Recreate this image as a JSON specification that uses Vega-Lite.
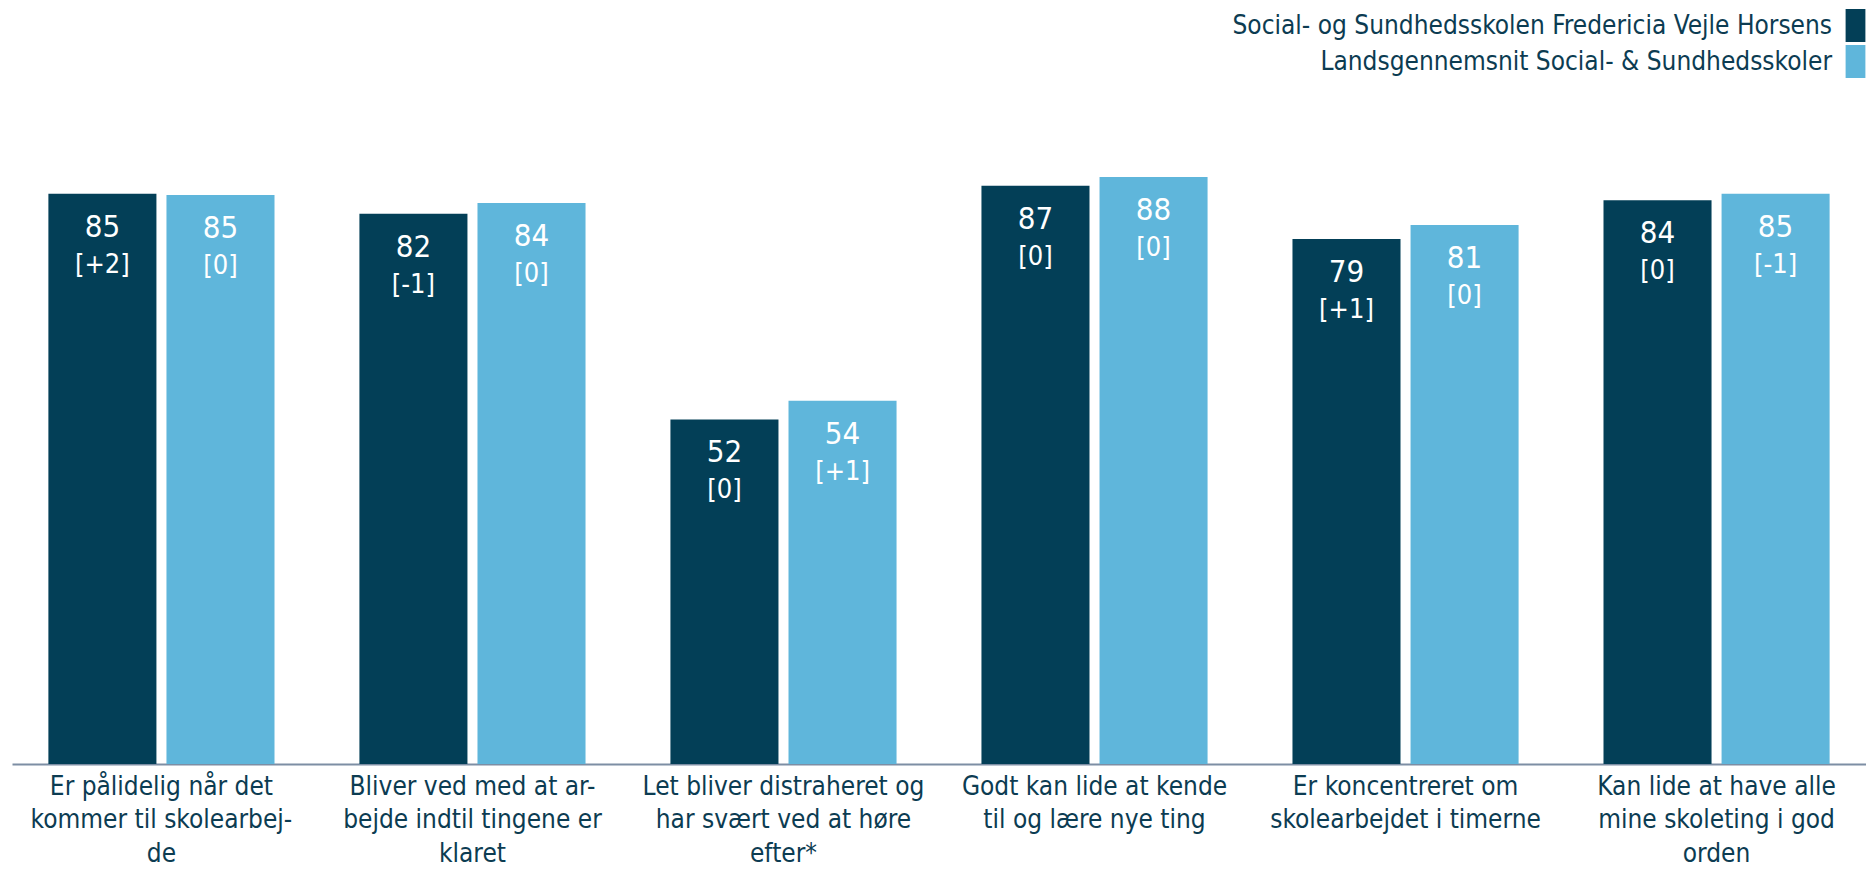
{
  "$schema": "https://vega.github.io/schema/vega-lite/v6.json",
  "width": 1854,
  "height": 764,
  "autosize": {"type": "none"},
  "padding": {"left": 12, "top": 0, "right": 0, "bottom": 105},
  "config": {
    "view": {"stroke": null},
    "font": "DejaVu Sans Condensed, DejaVu Sans",
    "text": {"font": "DejaVu Sans Condensed, DejaVu Sans"}
  },
  "data": {
    "values": [
      {"category": "Er pålidelig når det|kommer til skolearbej-|de", "series": "Social- og Sundhedsskolen Fredericia Vejle Horsens", "value": 85.4, "label": "85", "change": "[+2]"},
      {"category": "Er pålidelig når det|kommer til skolearbej-|de", "series": "Landsgennemsnit Social- & Sundhedsskoler", "value": 85.2, "label": "85", "change": "[0]"},
      {"category": "Bliver ved med at ar-|bejde indtil tingene er|klaret", "series": "Social- og Sundhedsskolen Fredericia Vejle Horsens", "value": 82.4, "label": "82", "change": "[-1]"},
      {"category": "Bliver ved med at ar-|bejde indtil tingene er|klaret", "series": "Landsgennemsnit Social- & Sundhedsskoler", "value": 84.0, "label": "84", "change": "[0]"},
      {"category": "Let bliver distraheret og|har svært ved at høre|efter*", "series": "Social- og Sundhedsskolen Fredericia Vejle Horsens", "value": 51.6, "label": "52", "change": "[0]"},
      {"category": "Let bliver distraheret og|har svært ved at høre|efter*", "series": "Landsgennemsnit Social- & Sundhedsskoler", "value": 54.4, "label": "54", "change": "[+1]"},
      {"category": "Godt kan lide at kende|til og lære nye ting", "series": "Social- og Sundhedsskolen Fredericia Vejle Horsens", "value": 86.6, "label": "87", "change": "[0]"},
      {"category": "Godt kan lide at kende|til og lære nye ting", "series": "Landsgennemsnit Social- & Sundhedsskoler", "value": 87.9, "label": "88", "change": "[0]"},
      {"category": "Er koncentreret om|skolearbejdet i timerne", "series": "Social- og Sundhedsskolen Fredericia Vejle Horsens", "value": 78.6, "label": "79", "change": "[+1]"},
      {"category": "Er koncentreret om|skolearbejdet i timerne", "series": "Landsgennemsnit Social- & Sundhedsskoler", "value": 80.7, "label": "81", "change": "[0]"},
      {"category": "Kan lide at have alle|mine skoleting i god|orden", "series": "Social- og Sundhedsskolen Fredericia Vejle Horsens", "value": 84.4, "label": "84", "change": "[0]"},
      {"category": "Kan lide at have alle|mine skoleting i god|orden", "series": "Landsgennemsnit Social- & Sundhedsskoler", "value": 85.4, "label": "85", "change": "[-1]"}
    ]
  },
  "encoding": {
    "x": {
      "field": "category",
      "type": "nominal",
      "sort": null,
      "scale": {"paddingInner": 0.273, "paddingOuter": 0.117},
      "axis": {
        "title": null,
        "labelAngle": 0,
        "ticks": false,
        "domain": true,
        "domainColor": "#7d8ea4",
        "domainWidth": 2,
        "labelFontSize": 26,
        "labelColor": "#0c3c52",
        "labelLineHeight": 33.5,
        "labelPadding": 9,
        "labelLimit": 0,
        "labelExpr": "split(datum.value, '|')"
      }
    },
    "xOffset": {
      "field": "series",
      "type": "nominal",
      "sort": ["Social- og Sundhedsskolen Fredericia Vejle Horsens", "Landsgennemsnit Social- & Sundhedsskoler"],
      "scale": {"paddingInner": 0.085}
    },
    "y": {
      "field": "value",
      "type": "quantitative",
      "scale": {"domain": [0, 114.4], "nice": false},
      "axis": null
    }
  },
  "layer": [
    {
      "mark": {"type": "bar"},
      "encoding": {
        "color": {
          "field": "series",
          "type": "nominal",
          "scale": {
            "domain": ["Social- og Sundhedsskolen Fredericia Vejle Horsens", "Landsgennemsnit Social- & Sundhedsskoler"],
            "range": ["#033f57", "#5fb6db"]
          },
          "legend": {
            "title": null,
            "orient": "none",
            "legendX": 1827,
            "legendY": 9,
            "padding": 0,
            "symbolType": "M-0.6,-1H0.6V1H-0.6Z",
            "symbolSize": 1089,
            "symbolStrokeWidth": 0,
            "symbolOpacity": 1,
            "labelFontSize": 26,
            "labelColor": "#0c3c52",
            "labelAlign": "right",
            "labelOffset": -40,
            "labelLimit": 0,
            "rowPadding": 3
          }
        }
      }
    },
    {
      "mark": {"type": "text", "baseline": "alphabetic", "dy": 43, "fontSize": 31, "color": "white"},
      "encoding": {"text": {"field": "label"}}
    },
    {
      "mark": {"type": "text", "baseline": "alphabetic", "dy": 79, "fontSize": 27, "color": "white"},
      "encoding": {"text": {"field": "change"}}
    }
  ]
}
